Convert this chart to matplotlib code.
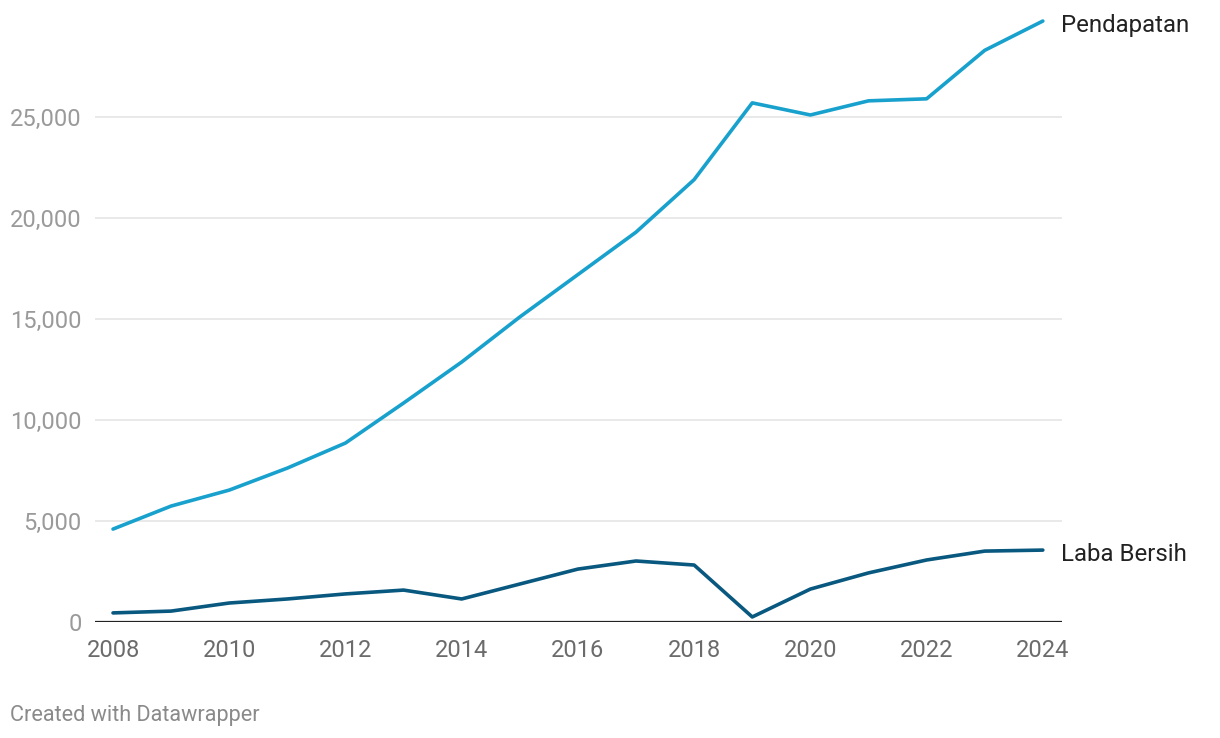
import matplotlib
matplotlib.use("Agg")
import matplotlib.pyplot as plt
import matplotlib.transforms as mtransforms
from matplotlib.ticker import FuncFormatter

plt.rcParams['font.family'] = ['Roboto', 'DejaVu Sans']

years = list(range(2008, 2025))
pendapatan = [4600, 5740, 6530, 7620, 8860, 10840, 12870, 15100, 17200, 19300,
              21900, 25700, 25100, 25800, 25900, 28300, 29750]
laba_bersih = [450, 540, 940, 1140, 1390, 1580, 1140, 1880, 2620, 3020,
               2820, 250, 1630, 2430, 3070, 3510, 3560]
y_ticks = [0, 5000, 10000, 15000, 20000, 25000]
x_ticks = list(range(2008, 2025, 2))

fig = plt.figure(figsize=(12.2, 7.38), dpi=100)
ax = fig.add_axes([95 / 1220, 1 - 622 / 738, (1062 - 95) / 1220, (622 - 16) / 738])

ax.plot(years, pendapatan, color='#18a1cd', linewidth=2.6, clip_on=False,
        solid_joinstyle='round', solid_capstyle='round', zorder=3)
ax.plot(years, laba_bersih, color='#09587f', linewidth=2.6, clip_on=False,
        solid_joinstyle='round', solid_capstyle='round', zorder=3)

# labels at line ends, nudged down a little
shift = mtransforms.offset_copy(ax.transData, fig=fig, x=0, y=-4, units='dots')
ax.text(years[-1] + 0.32, pendapatan[-1], 'Pendapatan', fontsize=17.3,
        color='#222222', va='center', ha='left', transform=shift)
ax.text(years[-1] + 0.32, laba_bersih[-1], 'Laba Bersih', fontsize=17.3,
        color='#222222', va='center', ha='left', transform=shift)

ax.set_xlim(2007.69, 2024.33)
ax.set_ylim(0, 30000)

ax.set_yticks(y_ticks)
ax.yaxis.set_major_formatter(FuncFormatter(lambda v, p: f"{int(v):,}"))
ax.set_xticks(x_ticks)

for v in y_ticks[1:]:
    ax.axhline(v, color='#e3e3e3', linewidth=1.1, zorder=1)
ax.axhline(0, color='#222222', linewidth=1.6, zorder=2)

for s in ax.spines.values():
    s.set_visible(False)
ax.tick_params(axis='both', length=0)
ax.tick_params(axis='y', labelsize=17, labelcolor='#9a9a9a', pad=9.5)
ax.tick_params(axis='x', labelsize=17, labelcolor='#6b6b6b', pad=12)

fig.text(10 / 1220, 1 - 715 / 738, 'Created with Datawrapper', fontsize=15.6,
         color='#8a8a8a', va='center', ha='left')

fig.savefig('out.png', dpi=100, facecolor='white')
